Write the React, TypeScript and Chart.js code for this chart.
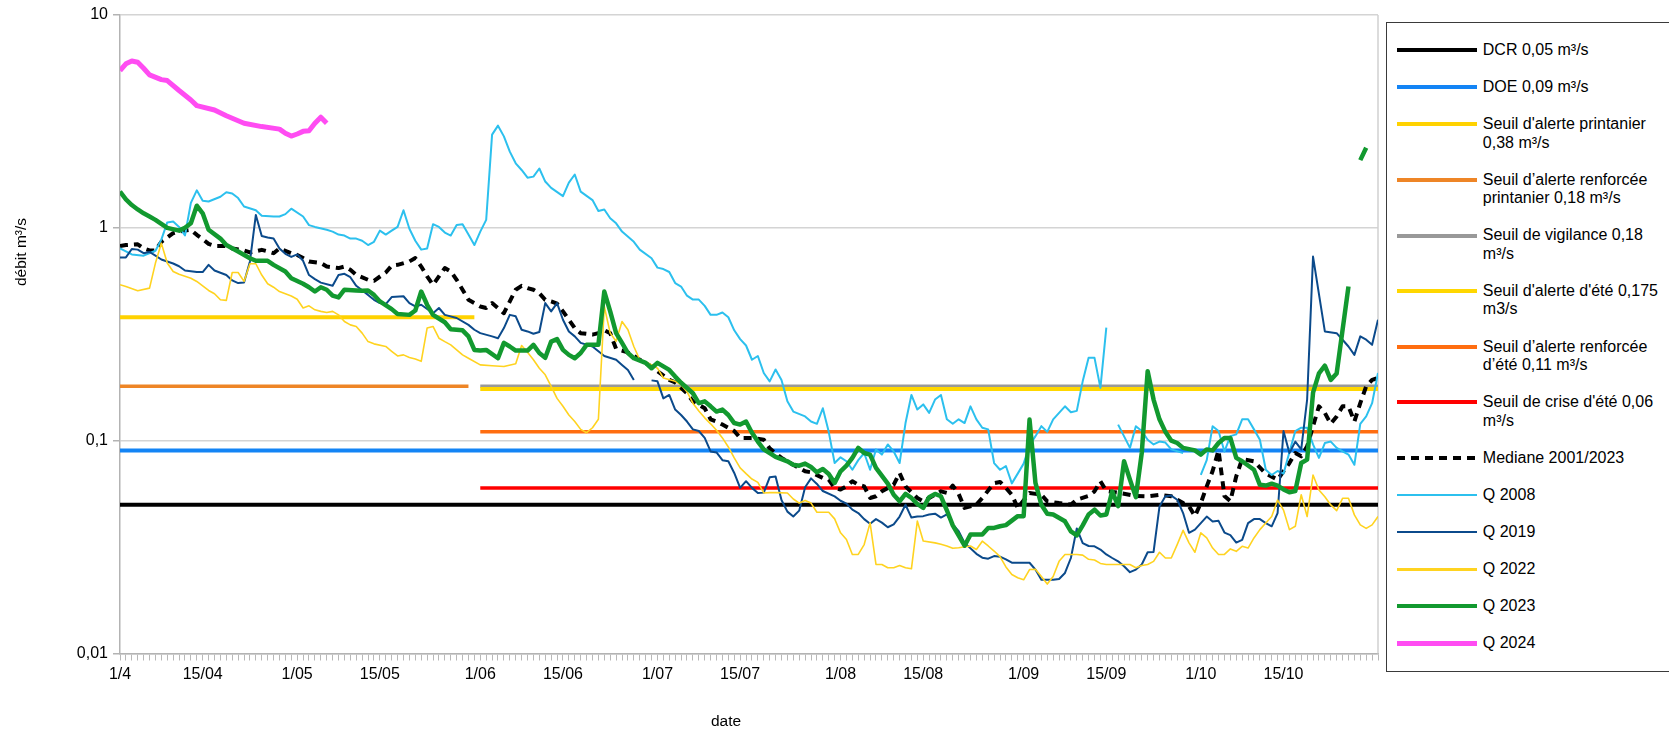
import React, { useEffect, useRef } from 'react';
import { Chart, registerables } from 'chart.js';

Chart.register(...registerables);

const WIDTH = 1669;
const HEIGHT = 730;
const FONT = '"Liberation Sans", Arial, Helvetica, sans-serif';

// ---------- axes ----------
const LAST_DAY = 213; // 1/4 .. 31/10, one category per day
const tickDays = [0, 14, 30, 44, 61, 75, 91, 105, 122, 136, 153, 167, 183, 197];
const tickLabels = ['1/4', '15/04', '1/05', '15/05', '1/06', '15/06', '1/07', '15/07', '1/08', '15/08', '1/09', '15/09', '1/10', '15/10'];
const yTickValues = [0.01, 0.1, 1, 10];
const yTickLabels = ['0,01', '0,1', '1', '10'];
const xTitle = 'date';
const yTitle = 'débit m³/s';

// ---------- thresholds (value, first day, last day) ----------
const dcr = { v: 0.05, from: 0, to: LAST_DAY };
const doe = { v: 0.09, from: 0, to: LAST_DAY };
const alertSpring = { v: 0.38, from: 0, to: 60 };
const reinforcedSpring = { v: 0.18, from: 0, to: 59 };
const vigilance = { v: 0.18, from: 61, to: LAST_DAY };
const alertSummer = { v: 0.175, from: 61, to: LAST_DAY };
const reinforcedSummer = { v: 0.11, from: 61, to: LAST_DAY };
const crisisSummer = { v: 0.06, from: 61, to: LAST_DAY };

type Pts = [number, number | null][];

// ---------- daily flows [day index, m3/s] ----------
const median: Pts = [[0,0.822],[1,0.83],[3,0.837],[4,0.8],[5,0.783],[6,0.783],[7,0.86],[9,0.944],[10,0.961],[12,0.979],[13,0.927],[14,0.885],[15,0.841],[16,0.822],[18,0.822],[19,0.8],[21,0.783],[22,0.766],[24,0.788],[25,0.775],[26,0.76],[27,0.8],[29,0.76],[30,0.746],[31,0.721],[32,0.695],[34,0.683],[35,0.658],[37,0.647],[38,0.658],[39,0.635],[40,0.601],[42,0.57],[43,0.564],[45,0.617],[46,0.664],[47,0.67],[49,0.695],[50,0.721],[51,0.658],[52,0.591],[53,0.54],[54,0.591],[55,0.647],[56,0.624],[57,0.57],[58,0.512],[59,0.459],[61,0.427],[62,0.42],[63,0.443],[65,0.397],[66,0.451],[67,0.512],[68,0.534],[69,0.521],[70,0.512],[71,0.493],[72,0.459],[73,0.451],[74,0.44],[75,0.405],[76,0.37],[77,0.338],[78,0.32],[80,0.315],[81,0.32],[82,0.33],[83,0.32],[84,0.27],[86,0.26],[88,0.24],[90,0.223],[91,0.212],[93,0.193],[94,0.188],[96,0.167],[97,0.153],[99,0.142],[100,0.126],[101,0.123],[102,0.119],[104,0.111],[105,0.103],[107,0.103],[109,0.101],[110,0.092],[112,0.083],[114,0.077],[115,0.0745],[116,0.0718],[117,0.071],[119,0.0668],[120,0.0657],[121,0.06],[122,0.0589],[123,0.061],[124,0.0645],[125,0.0621],[126,0.061],[127,0.0538],[128,0.0548],[129,0.0578],[131,0.0621],[132,0.0705],[133,0.061],[135,0.0538],[136,0.0519],[137,0.0538],[139,0.0578],[140,0.0568],[141,0.0615],[142,0.0562],[143,0.0483],[145,0.0501],[146,0.0538],[148,0.0632],[149,0.064],[150,0.06],[151,0.0557],[152,0.0483],[154,0.0568],[156,0.0557],[157,0.0519],[159,0.0509],[161,0.0501],[162,0.0528],[164,0.055],[165,0.0578],[166,0.0645],[167,0.058],[169,0.057],[172,0.055],[174,0.0548],[176,0.0557],[178,0.0548],[180,0.0509],[181,0.0492],[182,0.0442],[183,0.0509],[184,0.061],[185,0.072],[186,0.09],[187,0.055],[188,0.052],[189,0.068],[190,0.082],[192,0.08],[194,0.07],[196,0.0656],[198,0.0785],[199,0.0875],[200,0.0844],[201,0.094],[202,0.117],[203,0.145],[204,0.135],[205,0.12],[206,0.13],[207,0.145],[208,0.145],[209,0.123],[210,0.15],[211,0.18],[212,0.193],[213,0.197]];

const q2008: Pts = [[0,0.8],[2,0.75],[4,0.74],[6,0.78],[7,0.88],[8,1.06],[9,1.07],[10,1.01],[11,0.92],[12,1.31],[13,1.5],[14,1.34],[15,1.33],[17,1.4],[18,1.47],[19,1.45],[20,1.38],[21,1.26],[23,1.21],[24,1.14],[26,1.13],[27,1.13],[28,1.16],[29,1.23],[31,1.13],[32,1.03],[33,1.01],[35,0.98],[36,0.96],[37,0.93],[38,0.92],[39,0.89],[40,0.89],[41,0.87],[42,0.83],[43,0.86],[44,0.97],[45,0.93],[46,0.97],[47,1.01],[48,1.21],[49,0.99],[50,0.87],[51,0.79],[52,0.8],[53,1.04],[54,1.01],[55,0.95],[56,0.92],[57,1.03],[58,1.04],[59,0.93],[60,0.83],[61,0.96],[62,1.09],[63,2.74],[64,3.02],[65,2.69],[66,2.28],[67,2.01],[68,1.87],[69,1.72],[70,1.74],[71,1.9],[72,1.65],[73,1.54],[75,1.41],[76,1.63],[77,1.78],[78,1.48],[80,1.35],[81,1.2],[82,1.22],[83,1.11],[84,1.05],[85,0.96],[87,0.86],[88,0.79],[90,0.72],[91,0.65],[92,0.64],[93,0.62],[94,0.55],[95,0.53],[96,0.48],[97,0.46],[98,0.46],[99,0.43],[100,0.39],[101,0.39],[102,0.4],[103,0.38],[104,0.33],[105,0.3],[106,0.28],[107,0.24],[108,0.25],[109,0.208],[110,0.19],[111,0.216],[112,0.193],[113,0.153],[114,0.137],[116,0.13],[117,0.123],[118,0.12],[119,0.142],[120,0.11],[121,0.0785],[122,0.0835],[123,0.08],[124,0.073],[125,0.081],[126,0.0875],[127,0.073],[128,0.091],[129,0.086],[130,0.096],[131,0.089],[132,0.0785],[133,0.121],[134,0.164],[135,0.14],[136,0.148],[137,0.135],[138,0.156],[139,0.164],[140,0.126],[141,0.12],[142,0.126],[143,0.121],[144,0.145],[145,0.126],[146,0.115],[147,0.113],[148,0.0785],[149,0.073],[150,0.076],[151,0.063],[152,0.07],[153,0.078],[154,0.095],[155,0.105],[156,0.117],[157,0.11],[158,0.126],[160,0.145],[161,0.136],[162,0.138],[163,0.19],[164,0.245],[165,0.245],[166,0.177],[167,0.34],[168,null],[169,0.119],[171,0.0925],[172,0.117],[173,0.111],[174,0.101],[175,0.096],[176,0.099],[177,0.098],[178,0.091],[180,0.0875],[181,null],[183,0.069],[184,0.081],[185,0.117],[186,0.111],[187,0.089],[188,0.105],[189,0.107],[190,0.126],[191,0.126],[192,0.113],[193,0.101],[194,0.073],[195,0.069],[196,0.072],[197,0.07],[199,0.111],[200,0.115],[201,0.115],[202,0.096],[203,0.083],[204,0.0975],[205,0.099],[206,0.0925],[207,0.089],[208,0.086],[209,0.077],[210,0.12],[211,0.13],[212,0.15],[213,0.208]];

const q2019: Pts = [[0,0.726],[1,0.726],[2,0.795],[3,0.79],[4,0.76],[5,0.77],[6,0.74],[7,0.71],[9,0.68],[10,0.66],[11,0.63],[13,0.62],[14,0.62],[15,0.67],[16,0.63],[18,0.6],[19,0.566],[20,0.55],[21,0.553],[22,0.695],[23,1.15],[24,0.916],[25,0.9],[26,0.89],[27,0.8],[28,0.755],[29,0.73],[30,0.75],[31,0.7],[32,0.6],[33,0.574],[34,0.553],[36,0.534],[37,0.6],[38,0.608],[39,0.586],[40,0.534],[42,0.484],[43,0.459],[44,0.443],[45,0.438],[46,0.473],[48,0.477],[49,0.443],[50,0.427],[51,0.435],[53,0.397],[54,0.42],[55,0.39],[57,0.377],[59,0.35],[60,0.332],[61,0.32],[63,0.309],[64,0.303],[65,0.338],[66,0.39],[67,0.384],[68,0.332],[69,0.326],[70,0.318],[71,0.324],[72,0.443],[73,0.405],[74,0.443],[75,0.37],[76,0.326],[77,0.309],[78,0.288],[80,0.277],[81,0.263],[82,0.25],[84,0.24],[85,0.227],[86,0.215],[87,0.193],[88,null],[90,0.192],[91,0.19],[92,0.158],[93,0.164],[94,0.14],[95,0.132],[96,0.123],[97,0.113],[98,0.111],[99,0.103],[100,0.089],[101,0.088],[102,0.081],[103,0.08],[104,0.0705],[105,0.06],[106,0.0645],[107,0.06],[108,0.0568],[109,0.057],[110,0.0673],[111,0.0678],[112,0.0526],[113,0.0464],[114,0.044],[115,0.0469],[116,0.0604],[117,0.0665],[118,0.0626],[119,0.058],[121,0.0547],[122,0.0522],[123,0.0506],[124,0.0474],[125,0.0457],[126,0.0428],[127,0.0407],[128,0.0428],[129,0.0412],[130,0.0392],[131,0.0404],[132,0.044],[133,0.05],[134,0.0435],[135,0.044],[136,0.0442],[137,0.045],[138,0.0454],[139,0.0435],[140,0.045],[141,0.0404],[142,0.0376],[143,0.0331],[145,0.0294],[146,0.0282],[147,0.0279],[148,0.0287],[149,0.0285],[150,0.0277],[151,0.0267],[152,0.0267],[154,0.0267],[155,0.0248],[156,0.0222],[158,0.0222],[159,0.0224],[160,0.0239],[161,0.0281],[162,0.0387],[163,0.033],[164,0.032],[165,0.0319],[166,0.0308],[167,0.0292],[168,0.0281],[169,0.0271],[170,0.0257],[171,0.0241],[172,0.0248],[173,0.0262],[174,0.0299],[175,0.03],[176,0.049],[177,0.0548],[178,0.0552],[179,0.0528],[180,0.0457],[181,0.0369],[182,0.0382],[183,0.041],[184,0.044],[185,0.0417],[186,0.042],[187,0.037],[188,0.036],[189,0.0332],[190,0.0342],[191,0.041],[192,0.0428],[193,0.0428],[194,0.041],[195,0.0396],[196,0.0457],[197,0.111],[198,0.0875],[199,0.099],[200,0.091],[201,0.156],[202,0.733],[204,0.326],[206,0.32],[207,0.298],[208,0.277],[209,0.253],[210,0.309],[211,0.298],[212,0.282],[213,0.37]];

const q2022: Pts = [[0,0.54],[1,0.53],[3,0.506],[5,0.521],[6,0.683],[7,0.847],[8,0.683],[9,0.624],[10,0.605],[12,0.58],[13,0.56],[14,0.534],[15,0.508],[16,0.49],[17,0.459],[18,0.456],[19,0.617],[20,0.617],[21,0.56],[22,0.678],[23,0.678],[24,0.6],[25,0.546],[26,0.526],[27,0.502],[28,0.49],[29,0.478],[30,0.462],[31,0.42],[32,0.43],[33,0.412],[34,0.405],[35,0.4],[36,0.405],[37,0.39],[38,0.363],[39,0.35],[40,0.344],[41,0.32],[42,0.292],[43,0.285],[45,0.277],[46,0.263],[47,0.25],[48,0.253],[49,0.246],[50,0.242],[51,0.236],[52,0.338],[53,0.344],[54,0.303],[55,0.292],[56,0.282],[57,0.267],[58,0.253],[59,0.244],[61,0.227],[63,0.225],[65,0.223],[67,0.23],[68,0.28],[69,0.26],[70,0.24],[71,0.219],[72,0.204],[73,0.18],[74,0.158],[75,0.145],[76,0.132],[77,0.123],[78,0.113],[79,0.109],[80,0.115],[81,0.126],[82,0.427],[83,0.32],[84,0.293],[85,0.363],[86,0.332],[87,0.277],[88,0.24],[89,0.235],[90,0.227],[91,0.219],[92,0.197],[94,0.19],[95,0.183],[96,0.17],[97,0.15],[98,0.138],[99,0.128],[100,0.12],[101,0.112],[102,0.103],[103,0.0934],[104,0.083],[105,0.0745],[106,0.07],[107,0.066],[108,0.0637],[109,0.0568],[110,0.057],[111,0.057],[113,0.0568],[114,0.0532],[115,0.0509],[116,0.0524],[117,0.0509],[118,0.0461],[120,0.0461],[121,0.0429],[122,0.0369],[123,0.0343],[124,0.0292],[125,0.0292],[126,0.0325],[127,0.0411],[128,0.0262],[129,0.0262],[130,0.0253],[131,0.0253],[132,0.0259],[133,0.0253],[134,0.025],[135,0.0419],[136,0.0338],[138,0.0331],[139,0.0326],[140,0.032],[141,0.0312],[142,0.0314],[144,0.032],[145,0.0308],[146,0.0337],[147,0.032],[148,0.0303],[149,0.0285],[150,0.0255],[151,0.0235],[152,0.0227],[153,0.0222],[154,0.0248],[155,0.0249],[156,0.023],[157,0.0212],[158,0.023],[159,0.0271],[160,0.0292],[162,0.0292],[163,0.029],[164,0.0277],[165,0.0275],[166,0.0265],[167,0.0262],[171,0.0262],[172,0.0253],[173,0.0259],[174,0.0262],[175,0.0271],[176,0.0299],[177,0.0281],[178,0.0281],[179,0.0325],[180,0.0379],[181,0.0331],[182,0.0299],[183,0.0369],[184,0.0349],[185,0.0313],[186,0.0292],[187,0.0292],[188,0.031],[189,0.0302],[190,0.0319],[191,0.0313],[192,0.0349],[193,0.0382],[194,0.041],[195,0.044],[196,0.0526],[197,0.0472],[198,0.0382],[199,0.0396],[200,0.0557],[201,0.044],[202,0.069],[203,0.0586],[204,0.0545],[205,0.0499],[206,0.0469],[207,0.0536],[208,0.0536],[209,0.0448],[210,0.0402],[211,0.0387],[212,0.0402],[213,0.044]];

const q2023: Pts = [[0,1.48],[1,1.36],[2,1.28],[3,1.22],[4,1.17],[5,1.13],[6,1.09],[8,1.0],[10,0.97],[11,1.0],[12,1.05],[13,1.27],[14,1.17],[15,0.98],[17,0.89],[18,0.83],[20,0.774],[22,0.72],[23,0.7],[25,0.7],[26,0.67],[28,0.624],[29,0.58],[31,0.546],[32,0.526],[33,0.502],[34,0.526],[35,0.512],[36,0.48],[37,0.471],[38,0.512],[40,0.508],[41,0.506],[42,0.508],[43,0.484],[44,0.451],[46,0.415],[47,0.394],[49,0.39],[50,0.409],[51,0.502],[52,0.435],[53,0.39],[55,0.36],[56,0.334],[58,0.33],[59,0.309],[60,0.267],[61,0.265],[62,0.267],[64,0.244],[65,0.288],[66,0.277],[67,0.265],[69,0.265],[70,0.282],[71,0.258],[72,0.245],[73,0.292],[74,0.3],[75,0.267],[76,0.253],[77,0.244],[78,0.258],[79,0.282],[81,0.282],[82,0.502],[83,0.405],[84,0.32],[85,0.288],[86,0.258],[87,0.244],[89,0.232],[90,0.219],[91,0.232],[93,0.215],[94,0.2],[95,0.187],[97,0.167],[98,0.15],[99,0.153],[100,0.145],[101,0.137],[102,0.14],[103,0.132],[104,0.121],[105,0.119],[106,0.123],[107,0.109],[108,0.099],[109,0.091],[110,0.0875],[111,0.084],[113,0.08],[114,0.077],[115,0.0763],[116,0.078],[117,0.0752],[118,0.071],[119,0.0736],[120,0.0698],[121,0.0633],[122,0.0718],[123,0.0763],[124,0.083],[125,0.0925],[126,0.0875],[127,0.086],[128,0.0745],[130,0.0628],[131,0.0557],[132,0.0519],[133,0.0562],[134,0.0538],[135,0.0504],[136,0.0483],[137,0.0543],[138,0.0562],[139,0.0548],[140,0.0471],[141,0.04],[143,0.0321],[144,0.0362],[146,0.0362],[147,0.0389],[148,0.0389],[149,0.0396],[150,0.0401],[152,0.0442],[153,0.0442],[154,0.1256],[155,0.0633],[156,0.05],[157,0.0454],[158,0.045],[160,0.0418],[161,0.0375],[162,0.0359],[163,0.04],[164,0.045],[165,0.0474],[166,0.0445],[167,0.045],[168,0.0578],[169,0.0492],[170,0.08],[171,0.0656],[172,0.0543],[173,0.0875],[174,0.212],[175,0.156],[176,0.126],[177,0.11],[178,0.1],[179,0.0975],[180,0.0925],[182,0.09],[183,0.086],[184,0.091],[185,0.09],[186,0.0975],[187,0.103],[188,0.103],[189,0.083],[190,0.08],[192,0.073],[193,0.062],[194,0.0615],[195,0.0628],[196,0.0615],[197,0.059],[198,0.0572],[199,0.058],[200,0.0785],[201,0.0815],[202,0.168],[203,0.207],[204,0.225],[205,0.193],[206,0.207],[208,0.53],[209,null],[210,2.08],[211,2.38]];

const q2024: Pts = [[0,5.48],[1,5.9],[2,6.08],[3,6.0],[4,5.62],[5,5.23],[7,4.97],[8,4.92],[10,4.42],[12,3.99],[13,3.75],[16,3.58],[18,3.36],[21,3.1],[24,2.99],[27,2.91],[28,2.78],[29,2.7],[30,2.76],[31,2.84],[32,2.86],[33,3.1],[34,3.31],[35,3.1]];

const flat = (t: { v: number; from: number; to: number }): Pts => [[t.from, t.v], [t.to, t.v]];

type Series = { name: string; data: Pts; color: string; width: number; legendWidth: number; dash?: number[] };

const SERIES: Series[] = [
  { name: 'DCR 0,05 m³/s', data: flat(dcr), color: '#000000', width: 4, legendWidth: 4 },
  { name: 'DOE 0,09 m³/s', data: flat(doe), color: '#1384f5', width: 4, legendWidth: 4 },
  { name: "Seuil d'alerte printanier 0,38 m³/s", data: flat(alertSpring), color: '#ffd200', width: 4, legendWidth: 4 },
  { name: 'Seuil d’alerte renforcée printanier 0,18 m³/s', data: flat(reinforcedSpring), color: '#ee8526', width: 3.5, legendWidth: 4 },
  { name: 'Seuil de vigilance 0,18 m³/s', data: flat(vigilance), color: '#999999', width: 3.5, legendWidth: 4 },
  { name: "Seuil d'alerte d'été 0,175 m3/s", data: flat(alertSummer), color: '#ffd700', width: 4, legendWidth: 4 },
  { name: 'Seuil d’alerte renforcée d’été 0,11 m³/s', data: flat(reinforcedSummer), color: '#ff6d10', width: 3.5, legendWidth: 4 },
  { name: "Seuil de crise d'été 0,06 m³/s", data: flat(crisisSummer), color: '#ff0000', width: 3.5, legendWidth: 4 },
  { name: 'Mediane 2001/2023', data: median, color: '#000000', width: 4, legendWidth: 4, dash: [8, 6] },
  { name: 'Q 2008', data: q2008, color: '#2cc0ee', width: 2, legendWidth: 2.3 },
  { name: 'Q 2019', data: q2019, color: '#0b4a8b', width: 2, legendWidth: 2.3 },
  { name: 'Q 2022', data: q2022, color: '#ffd320', width: 1.6, legendWidth: 2.3 },
  { name: 'Q 2023', data: q2023, color: '#12992f', width: 4.5, legendWidth: 4 },
  { name: 'Q 2024', data: q2024, color: '#ff4cf2', width: 5, legendWidth: 4.5 },
];

const allDays = Array.from({ length: LAST_DAY + 1 }, (_, i) => i);
const LEGEND_LINE = 18.55;

const framePlugin = {
  id: 'frameAndTitles',
  beforeDatasetsDraw(chart: any) {
    const { ctx, chartArea: a } = chart;
    ctx.save();
    ctx.strokeStyle = '#d0d0d0';
    ctx.lineWidth = 1.5;
    ctx.beginPath();
    ctx.moveTo(a.right, a.top);
    ctx.lineTo(a.right, a.bottom);
    ctx.stroke();
    ctx.restore();
  },
  afterDraw(chart: any) {
    const { ctx } = chart;
    ctx.save();
    ctx.fillStyle = '#000';
    ctx.font = `15.5px ${FONT}`;
    ctx.textAlign = 'center';
    ctx.textBaseline = 'middle';
    ctx.fillText(xTitle, 726, 721.5);
    ctx.translate(22, 252);
    ctx.rotate(-Math.PI / 2);
    ctx.fillText(yTitle, 0, 0);
    ctx.restore();
  },
};

function Legend() {
  return (
    <div
      style={{
        position: 'absolute',
        left: 1386,
        top: 21.5,
        width: 320,
        height: 650,
        boxSizing: 'border-box',
        border: '1px solid #3a3a3a',
        paddingTop: 18.3,
        paddingLeft: 10.3,
        fontFamily: FONT,
        background: '#fff',
      }}
    >
      {SERIES.map((s) => (
        <div key={s.name} style={{ display: 'flex', alignItems: 'flex-start', marginBottom: LEGEND_LINE }}>
          <div style={{ width: 80, height: LEGEND_LINE, position: 'relative', flex: 'none' }}>
            <div
              style={{
                position: 'absolute',
                left: 0,
                right: 0,
                top: (LEGEND_LINE - s.legendWidth) / 2,
                height: s.legendWidth,
                background: s.dash
                  ? `repeating-linear-gradient(to right, ${s.color} 0px, ${s.color} ${s.dash[0]}px, transparent ${s.dash[0]}px, transparent ${s.dash[0] + s.dash[1]}px)`
                  : s.color,
              }}
            />
          </div>
          <div style={{ marginLeft: 5.5, width: 188, fontSize: 16, lineHeight: `${LEGEND_LINE}px`, color: '#000' }}>{s.name}</div>
        </div>
      ))}
    </div>
  );
}

export default function App() {
  const canvasRef = useRef<HTMLCanvasElement | null>(null);

  useEffect(() => {
    if (!canvasRef.current) return;
    const labelMap: Record<number, string> = {};
    tickDays.forEach((d, i) => (labelMap[d] = tickLabels[i]));
    const n = SERIES.length;
    const chart = new Chart(canvasRef.current, {
      type: 'line',
      data: {
        datasets: SERIES.map((s, i) => ({
          label: s.name,
          data: s.data.map(([x, y]) => ({ x, y })),
          borderColor: s.color,
          backgroundColor: s.color,
          borderWidth: s.width,
          borderDash: s.dash || [],
          pointRadius: 0,
          pointHoverRadius: 0,
          tension: 0,
          spanGaps: false,
          fill: false,
          borderJoinStyle: 'round',
          borderCapStyle: 'butt',
          order: n - i,
        })) as any,
      },
      options: {
        animation: false,
        responsive: false,
        maintainAspectRatio: false,
        devicePixelRatio: 1,
        events: [],
        layout: { padding: { left: 0, right: WIDTH - 1378, top: 15, bottom: 0 } },
        plugins: {
          legend: { display: false },
          tooltip: { enabled: false },
          title: { display: false },
        },
        scales: {
          x: {
            type: 'linear',
            min: 0,
            max: LAST_DAY,
            afterBuildTicks: (scale: any) => {
              scale.ticks = allDays.map((v) => ({ value: v }));
            },
            afterFit: (scale: any) => {
              scale.height = HEIGHT - 653.5;
            },
            ticks: {
              autoSkip: false,
              maxRotation: 0,
              minRotation: 0,
              padding: 4,
              color: '#000',
              font: { family: FONT, size: 16 },
              callback: (v: any) => labelMap[Math.round(Number(v))] ?? '',
            },
            grid: { drawOnChartArea: false, drawTicks: true, tickLength: 7, color: '#b8b8b8', lineWidth: 1 },
            border: { display: true, color: '#b3b3b3', width: 1.5 },
          },
          y: {
            type: 'logarithmic',
            min: 0.01,
            max: 10,
            afterBuildTicks: (scale: any) => {
              scale.ticks = yTickValues.map((v) => ({ value: v }));
            },
            afterFit: (scale: any) => {
              scale.width = 120;
            },
            ticks: {
              autoSkip: false,
              padding: 5,
              color: '#000',
              font: { family: FONT, size: 16 },
              callback: (v: any) => {
                const idx = yTickValues.findIndex((t) => Math.abs(t - Number(v)) < 1e-9);
                return idx >= 0 ? yTickLabels[idx] : '';
              },
            },
            grid: { color: '#d4d4d4', lineWidth: 1.5, tickLength: 7, tickColor: '#b3b3b3', drawTicks: true },
            border: { display: true, color: '#b3b3b3', width: 1.5 },
          },
        },
      } as any,
      plugins: [framePlugin],
    });
    return () => chart.destroy();
  }, []);

  return (
    <div style={{ position: 'relative', width: WIDTH, height: HEIGHT, overflow: 'hidden', background: '#fff' }}>
      <style>{'html,body{margin:0;padding:0;background:#fff;}'}</style>
      <canvas ref={canvasRef} width={WIDTH} height={HEIGHT} style={{ display: 'block', width: WIDTH, height: HEIGHT }} />
      <Legend />
    </div>
  );
}
